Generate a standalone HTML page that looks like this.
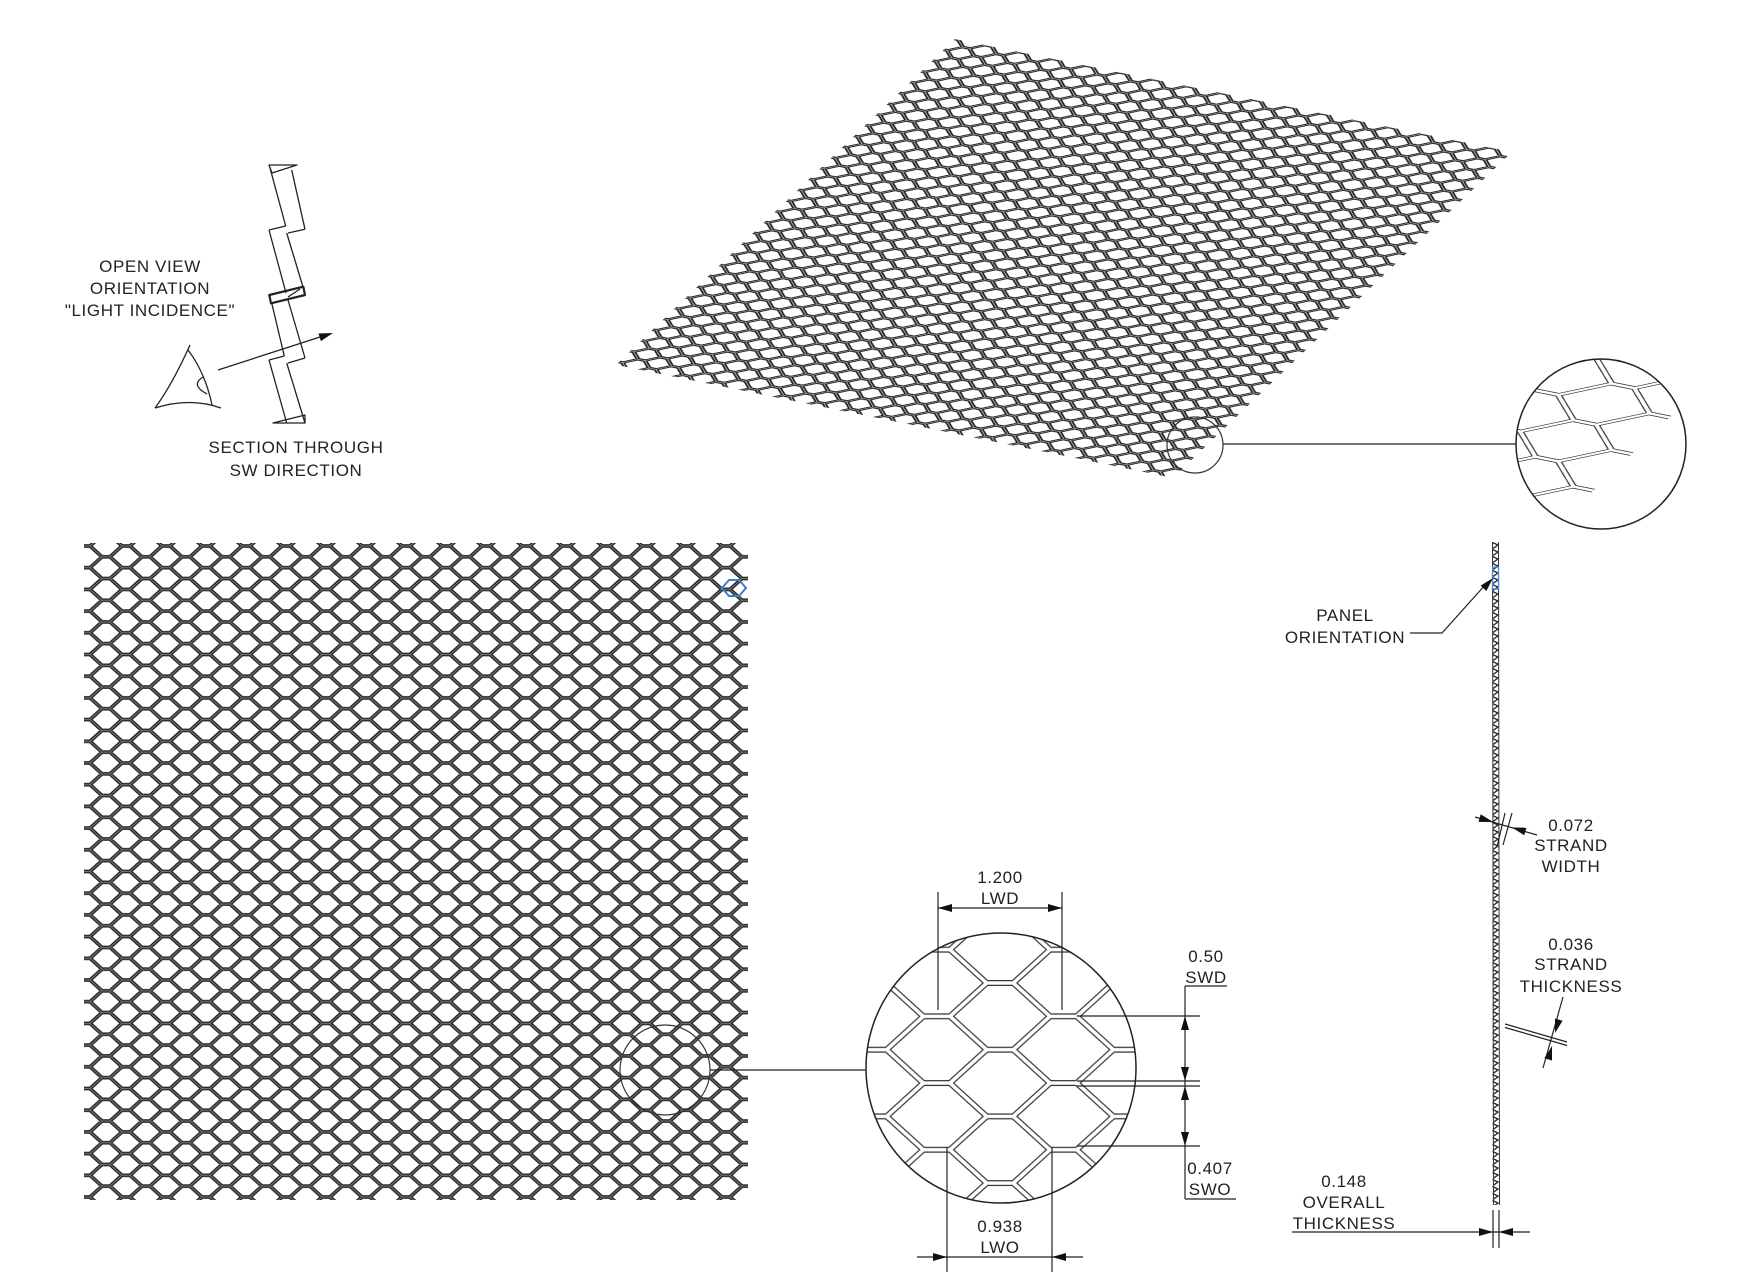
<!DOCTYPE html>
<html><head><meta charset="utf-8"><style>
html,body{margin:0;padding:0;background:#fff;}
svg{display:block;}
text{font-family:"Liberation Sans",sans-serif;font-size:17px;fill:#222;letter-spacing:0.6px;}
</style></head><body>
<svg width="1763" height="1280" viewBox="0 0 1763 1280" xmlns="http://www.w3.org/2000/svg">
<defs>
  <!-- flat honeycomb P=40 V=21.7 e=8 -->
  <pattern id="hexF" width="40" height="21.7" patternUnits="userSpaceOnUse" patternTransform="translate(86,546)">
    <g fill="none" stroke-linecap="round">
      <path id="hf" d="M-4,0 L4,0 M36,0 L44,0 M-4,21.7 L4,21.7 M36,21.7 L44,21.7 M16,10.85 L24,10.85 M4,0 L16,10.85 M4,21.7 L16,10.85 M24,10.85 L36,0 M24,10.85 L36,21.7" stroke="#2a2a2a" stroke-width="3.8"/>
      <path d="M-4,0 L4,0 M36,0 L44,0 M-4,21.7 L4,21.7 M36,21.7 L44,21.7 M16,10.85 L24,10.85 M4,0 L16,10.85 M4,21.7 L16,10.85 M24,10.85 L36,0 M24,10.85 L36,21.7" stroke="#8a8a8a" stroke-width="0.8"/>
    </g>
  </pattern>
  <pattern id="hexI" width="40" height="21.7" patternUnits="userSpaceOnUse">
    <g fill="none" stroke-linecap="round">
      <path d="M-4,0 L4,0 M36,0 L44,0 M-4,21.7 L4,21.7 M36,21.7 L44,21.7 M16,10.85 L24,10.85 M4,0 L16,10.85 M4,21.7 L16,10.85 M24,10.85 L36,0 M24,10.85 L36,21.7" stroke="#1e1e1e" stroke-width="4.6"/>
      <path d="M-4,0 L4,0 M36,0 L44,0 M-4,21.7 L4,21.7 M36,21.7 L44,21.7 M16,10.85 L24,10.85 M4,0 L16,10.85 M4,21.7 L16,10.85 M24,10.85 L36,0 M24,10.85 L36,21.7" stroke="#bbb" stroke-width="1.1"/>
    </g>
  </pattern>
  <pattern id="hexM" width="40" height="21.7" patternUnits="userSpaceOnUse">
    <g fill="none" stroke-linecap="round">
      <path d="M-4,0 L4,0 M36,0 L44,0 M-4,21.7 L4,21.7 M36,21.7 L44,21.7 M16,10.85 L24,10.85 M4,0 L16,10.85 M4,21.7 L16,10.85 M24,10.85 L36,0 M24,10.85 L36,21.7" stroke="#222" stroke-width="1.9"/>
      <path d="M-4,0 L4,0 M36,0 L44,0 M-4,21.7 L4,21.7 M36,21.7 L44,21.7 M16,10.85 L24,10.85 M4,0 L16,10.85 M4,21.7 L16,10.85 M24,10.85 L36,0 M24,10.85 L36,21.7" stroke="#fff" stroke-width="1.2"/>
    </g>
  </pattern>
  <pattern id="hexB" width="126.7" height="66.7" patternUnits="userSpaceOnUse" patternTransform="translate(1000,983)">
    <g fill="none" stroke-linejoin="round">
      <path d="M-13.35,0 L13.35,0 M113.35,0 L140,0 M-13.35,66.7 L13.35,66.7 M113.35,66.7 L140,66.7 M50,33.35 L76.7,33.35 M13.35,0 L50,33.35 M13.35,66.7 L50,33.35 M76.7,33.35 L113.35,0 M76.7,33.35 L113.35,66.7" stroke="#333" stroke-width="6"/>
      <path d="M-13.35,0 L13.35,0 M113.35,0 L140,0 M-13.35,66.7 L13.35,66.7 M113.35,66.7 L140,66.7 M50,33.35 L76.7,33.35 M13.35,0 L50,33.35 M13.35,66.7 L50,33.35 M76.7,33.35 L113.35,0 M76.7,33.35 L113.35,66.7" stroke="#fff" stroke-width="3.6"/>
    </g>
  </pattern>
  <pattern id="zig" width="7" height="7" patternUnits="userSpaceOnUse" patternTransform="translate(1492,542)">
    <path d="M0.5,0.5 L6,3 L1,6.5" fill="none" stroke="#222" stroke-width="1.3"/>
  </pattern>
  <clipPath id="cB"><circle cx="1001" cy="1068" r="135"/></clipPath>
  <clipPath id="cM"><circle cx="1601" cy="444" r="85"/></clipPath>
</defs>

<!-- flat panel -->
<rect x="84" y="543" width="664" height="657" fill="url(#hexF)"/>
<polygon points="722,588 729,580 739,580 746,588 739,596 729,596" fill="none" stroke="#3a7fd0" stroke-width="2"/>
<circle cx="665" cy="1070" r="45" fill="none" stroke="#333" stroke-width="1.2"/>
<line x1="710" y1="1070" x2="866" y2="1070" stroke="#222" stroke-width="1.3"/>

<!-- big detail circle -->
<g clip-path="url(#cB)"><rect x="860" y="930" width="290" height="280" fill="url(#hexB)"/></g>
<circle cx="1001" cy="1068" r="135" fill="none" stroke="#222" stroke-width="1.5"/>

<g stroke="#222" stroke-width="1.2" fill="none">
  <line x1="938" y1="892" x2="938" y2="1010"/>
  <line x1="1062" y1="892" x2="1062" y2="1010"/>
  <line x1="938" y1="908" x2="1062" y2="908"/>
  <line x1="1077" y1="1016" x2="1200" y2="1016"/>
  <line x1="1077" y1="1081" x2="1200" y2="1081"/>
  <line x1="1077" y1="1086" x2="1200" y2="1086"/>
  <line x1="1077" y1="1146" x2="1200" y2="1146"/>
  <line x1="1185" y1="986" x2="1185" y2="1199"/>
  <line x1="1185" y1="986" x2="1227" y2="986"/>
  <line x1="1185" y1="1199" x2="1236" y2="1199"/>
  <line x1="947" y1="1147" x2="947" y2="1272"/>
  <line x1="1052" y1="1147" x2="1052" y2="1272"/>
  <line x1="917" y1="1257" x2="1083" y2="1257"/>
</g>
<g fill="#111">
  <polygon points="938,908 952,904 952,912"/>
  <polygon points="1062,908 1048,904 1048,912"/>
  <polygon points="1185,1016 1181,1030 1189,1030"/>
  <polygon points="1185,1081 1181,1067 1189,1067"/>
  <polygon points="1185,1086 1181,1100 1189,1100"/>
  <polygon points="1185,1146 1181,1132 1189,1132"/>
  <polygon points="947,1257 933,1253 933,1261"/>
  <polygon points="1052,1257 1066,1253 1066,1261"/>
</g>
<g text-anchor="middle">
  <text x="1000" y="883">1.200</text>
  <text x="1000" y="904">LWD</text>
  <text x="1206" y="962">0.50</text>
  <text x="1206" y="983">SWD</text>
  <text x="1210" y="1174">0.407</text>
  <text x="1210" y="1195">SWO</text>
  <text x="1000" y="1232">0.938</text>
  <text x="1000" y="1253">LWO</text>
</g>

<!-- iso panel -->
<g transform="matrix(0.840,0.1704,-0.516,0.496,955,39)">
  <rect x="0" y="0" width="663" height="657" fill="url(#hexI)"/>
</g>
<circle cx="1195" cy="445" r="28" fill="none" stroke="#333" stroke-width="1.2"/>
<line x1="1223" y1="444" x2="1516" y2="444" stroke="#222" stroke-width="1.3"/>
<g clip-path="url(#cM)">
  <g transform="translate(1601,444) scale(3.4) translate(-1195,-445)">
    <g transform="matrix(0.840,0.1704,-0.516,0.496,955,39)">
      <rect x="0" y="0" width="663" height="657" fill="url(#hexM)"/>
    </g>
  </g>
</g>
<circle cx="1601" cy="444" r="85" fill="none" stroke="#222" stroke-width="1.5"/>

<!-- section view top-left -->
<g stroke="#222" stroke-width="1.3" fill="none" stroke-linejoin="round">
  <polygon points="269,165 297,165 272,173"/>
  <line x1="270" y1="168" x2="285.7" y2="226"/>
  <line x1="291.7" y1="170" x2="305" y2="229.3"/>
  <line x1="305" y1="229.3" x2="288" y2="233"/>
  <line x1="269" y1="230" x2="285.7" y2="226"/>
  <line x1="269" y1="230" x2="286" y2="293"/>
  <line x1="286.7" y1="233" x2="303" y2="287"/>
  <polygon points="269.3,295 303.3,286.7 305,295 271,303.3" stroke-width="2.2"/>
  <line x1="288" y1="297" x2="300" y2="289"/>
  <line x1="271.7" y1="303" x2="284.3" y2="356"/>
  <line x1="288" y1="300" x2="305" y2="358"/>
  <line x1="305" y1="358" x2="288" y2="363"/>
  <line x1="269" y1="360" x2="284.3" y2="356"/>
  <line x1="269" y1="360" x2="286.7" y2="423"/>
  <line x1="286.7" y1="363" x2="305" y2="423"/>
  <polygon points="273,423 305,423 305,415"/>
  <path d="M190,345 Q172,385 155,408"/>
  <path d="M155,408 Q190,397 221,408"/>
  <path d="M188,350 Q205,372 212,405"/>
  <path d="M203,377 Q190,385 207,394"/>
  <line x1="218" y1="370" x2="320" y2="337"/>
</g>
<polygon points="333,333 320.9,341.1 318.5,333.5" fill="#111"/>
<g text-anchor="middle">
  <text x="150" y="272">OPEN VIEW</text>
  <text x="150" y="294">ORIENTATION</text>
  <text x="150" y="316">"LIGHT INCIDENCE"</text>
  <text x="296" y="453">SECTION THROUGH</text>
  <text x="296" y="476">SW DIRECTION</text>
</g>

<!-- right section strip -->
<rect x="1492" y="542" width="7" height="663" fill="url(#zig)"/>
<line x1="1492.5" y1="542" x2="1493.5" y2="1205" stroke="#333" stroke-width="1"/>
<line x1="1498.5" y1="542" x2="1499.5" y2="1205" stroke="#333" stroke-width="1"/>
<rect x="1492.5" y="567" width="6" height="22" fill="none" stroke="#3a8ee6" stroke-width="1.3"/>
<g stroke="#222" stroke-width="1.2" fill="none">
  <polyline points="1410,633 1442,633 1486,584"/>
  <line x1="1475" y1="817" x2="1537" y2="835"/>
  <line x1="1505" y1="813" x2="1497" y2="847"/>
  <line x1="1512" y1="813" x2="1503" y2="845"/>
  <line x1="1505" y1="1024" x2="1567" y2="1042"/>
  <line x1="1505" y1="1027.5" x2="1567" y2="1045.5"/>
  <line x1="1563" y1="997" x2="1543" y2="1068"/>
  <line x1="1292" y1="1232" x2="1530" y2="1232"/>
  <line x1="1493" y1="1210" x2="1493" y2="1248"/>
  <line x1="1499" y1="1210" x2="1499" y2="1248"/>
</g>
<g fill="#111">
  <polygon points="1493,578 1486.4,591 1480.6,585.6"/>
  <polygon points="1493,822 1478.5,821.9 1480.7,814.3"/>
  <polygon points="1512,827.5 1524.3,835.2 1526.5,827.6"/>
  <polygon points="1555,1033 1562.6,1020.7 1555,1018.5"/>
  <polygon points="1552,1046 1552,1060.5 1544.4,1058.3"/>
  <polygon points="1493,1232 1479,1228 1479,1236"/>
  <polygon points="1499,1232 1513,1228 1513,1236"/>
</g>
<g text-anchor="middle">
  <text x="1345" y="621">PANEL</text>
  <text x="1345" y="643">ORIENTATION</text>
  <text x="1571" y="831">0.072</text>
  <text x="1571" y="851">STRAND</text>
  <text x="1571" y="872">WIDTH</text>
  <text x="1571" y="950">0.036</text>
  <text x="1571" y="970">STRAND</text>
  <text x="1571" y="992">THICKNESS</text>
  <text x="1344" y="1187">0.148</text>
  <text x="1344" y="1208">OVERALL</text>
  <text x="1344" y="1229">THICKNESS</text>
</g>
</svg>
</body></html>
